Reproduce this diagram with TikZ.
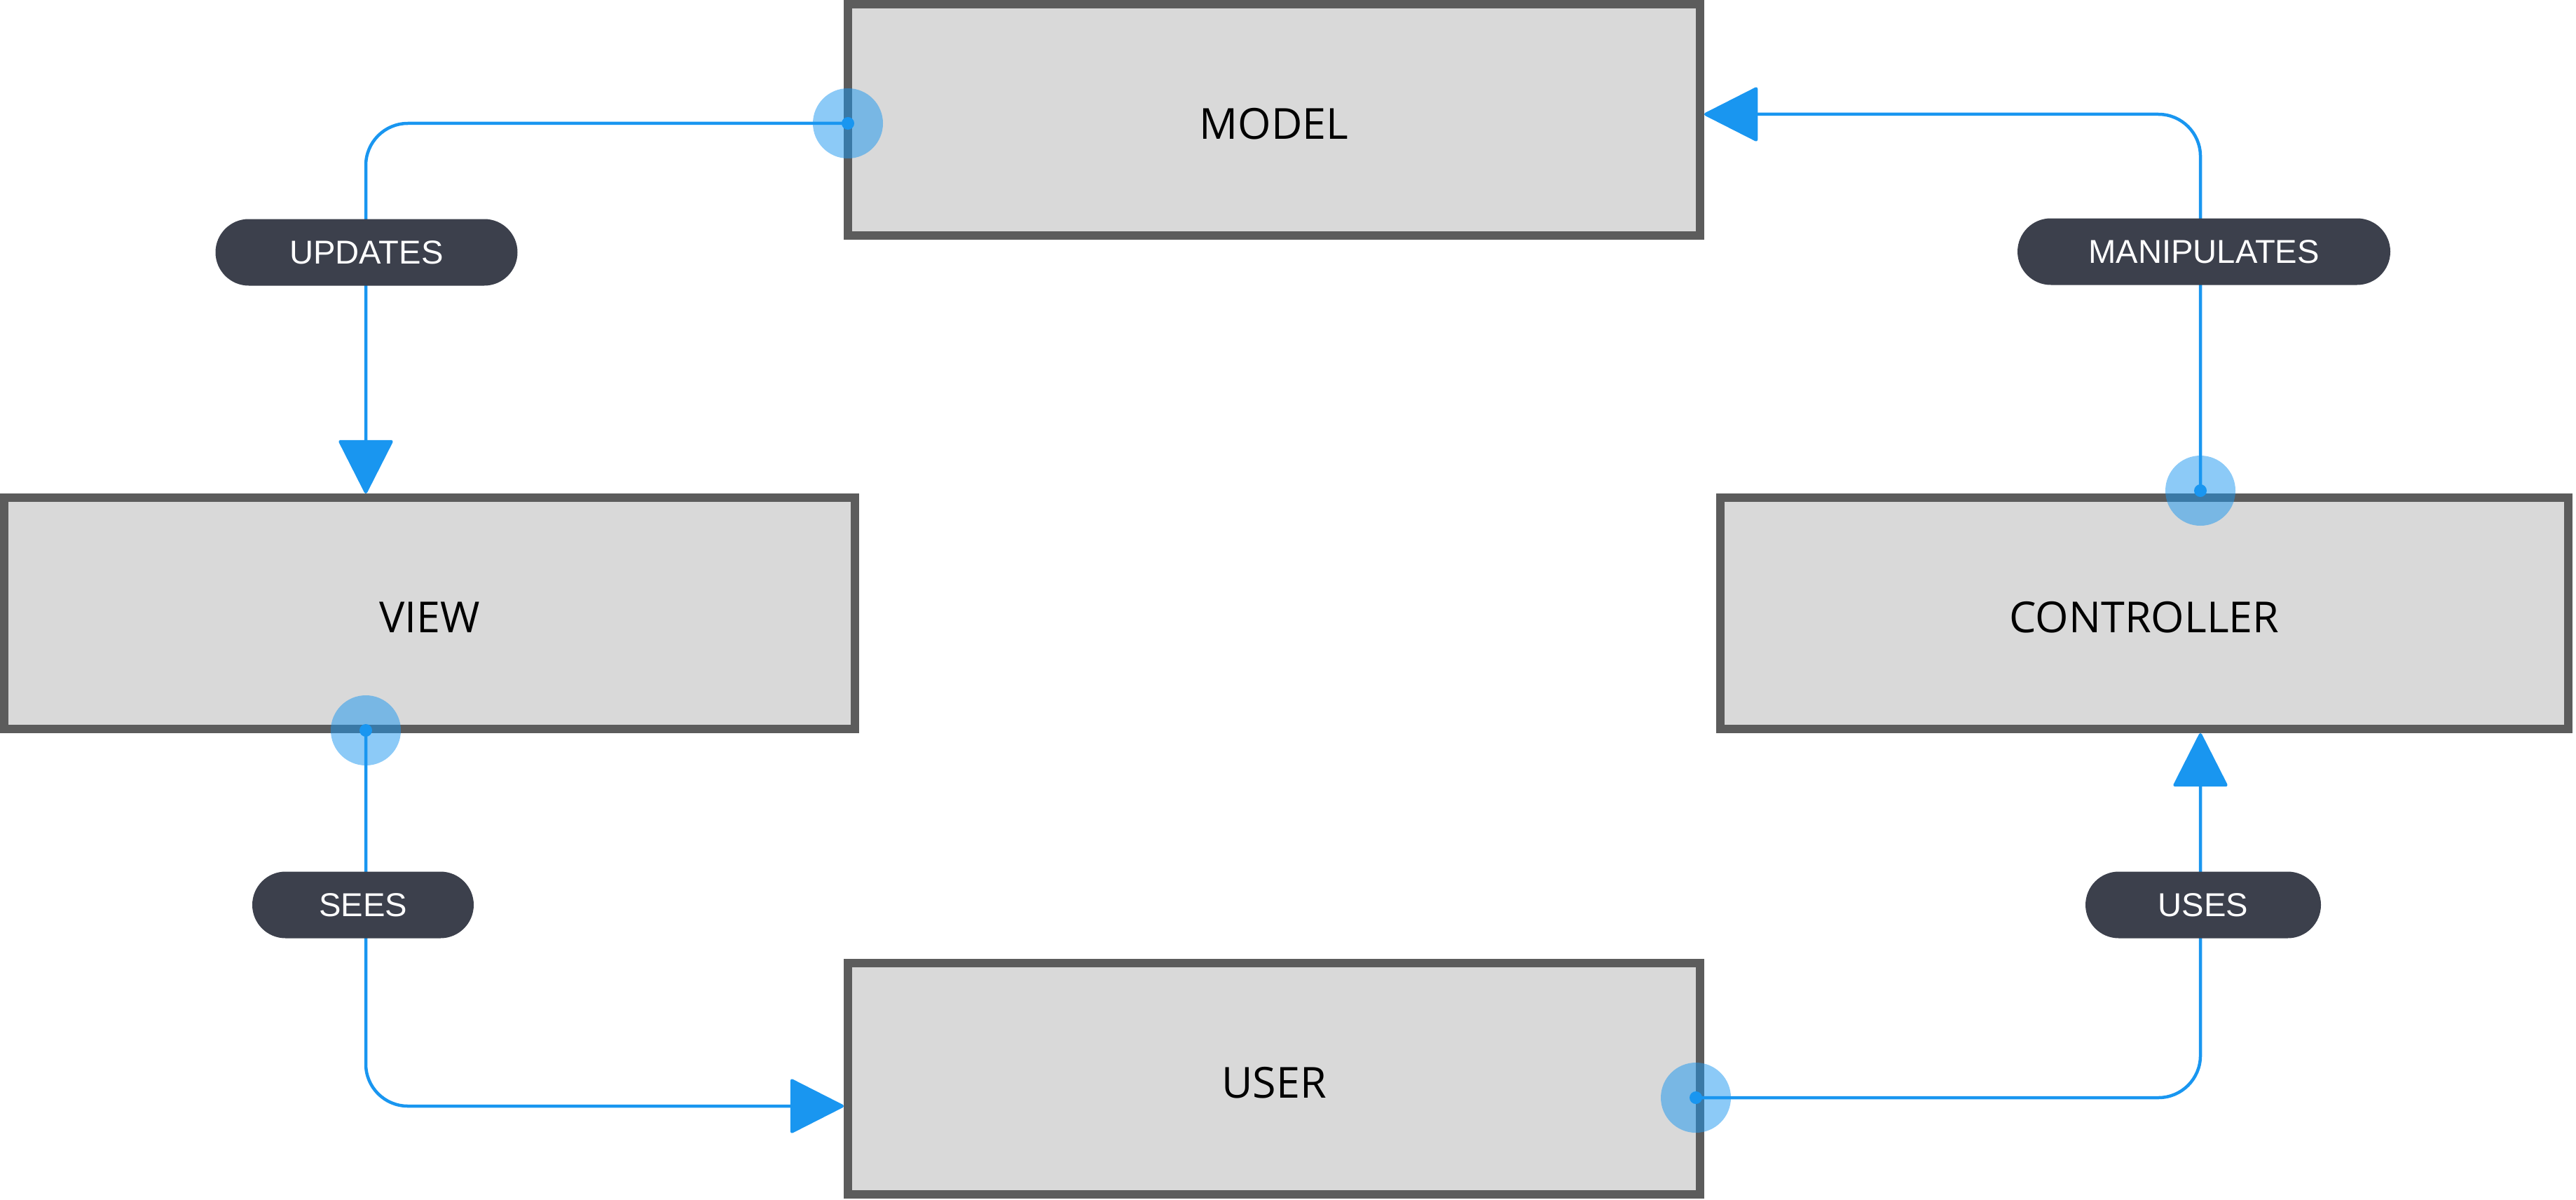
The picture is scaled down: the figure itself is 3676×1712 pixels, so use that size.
\documentclass[tikz,border=0pt]{standalone}
\usepackage{fontspec}
\setmainfont{Open Sans}
\newfontfamily\pillfont{Liberation Sans}
\usetikzlibrary{arrows.meta}
\definecolor{boxfill}{HTML}{D9D9D9}
\definecolor{boxline}{HTML}{5C5C5C}
\definecolor{flow}{HTML}{1996F0}
\definecolor{pillbg}{HTML}{3C404C}
\begin{document}
\begin{tikzpicture}[x=0.5pt,y=-0.5pt,
  block/.style={draw=boxline, fill=boxfill, line width=6pt, minimum height=165pt,
    inner sep=0pt, text height=27.5pt, text depth=0pt,
    font=\fontsize{30.5}{35}\selectfont},
  port/.style={circle, fill=flow, fill opacity=0.5, minimum size=50pt, inner sep=0pt},
  conn/.style={draw=flow, line width=2.25pt, rounded corners=30pt,
    -{Triangle[length=39.5pt,width=39.5pt,round]}},
  pill/.style={fill=pillbg, rounded corners=23.75pt, minimum height=47.5pt,
    inner sep=0pt, text=white, font=\pillfont\fontsize{23.6}{27}\selectfont}
]
\useasboundingbox (0,0) rectangle (3676,1712);
% boxes
\node[block, minimum width=608pt] (model) at (1818,171) {MODEL};
\node[block, minimum width=607pt] (view) at (613,875) {VIEW};
\node[block, minimum width=605pt] (ctrl) at (3060,875) {CONTROLLER};
\node[block, minimum width=608pt] (user) at (1818,1539) {USER};
% ports
\node[port] (pm) at (1210,176) {};
\node[port] (pv) at (522,1042) {};
\node[port] (pc) at (3140,700) {};
\node[port] (pu) at (2420,1566) {};
% connectors
\draw[conn] (pm.center) -| (pv |- view.north);
\draw[conn] (pv.center) |- ([yshift=-19.5pt]user.west);
\draw[conn] (pu.center) -| (pc |- ctrl.south);
\draw[conn] (pc.center) |- ([yshift=4pt]model.east);
% dots
\foreach \p in {pm,pv,pc,pu} \fill[flow] (\p.center) circle[radius=4.5pt];
% labels
\node[pill, minimum width=215.5pt] (lupd) at (523,360) {UPDATES};
\node[pill, minimum width=266pt] (lman) at (3145,359) {MANIPULATES};
\node[pill, minimum width=158pt] (lsee) at (518,1291) {SEES};
\node[pill, minimum width=168pt] (luse) at (3144,1291) {USES};
\end{tikzpicture}
\end{document}
